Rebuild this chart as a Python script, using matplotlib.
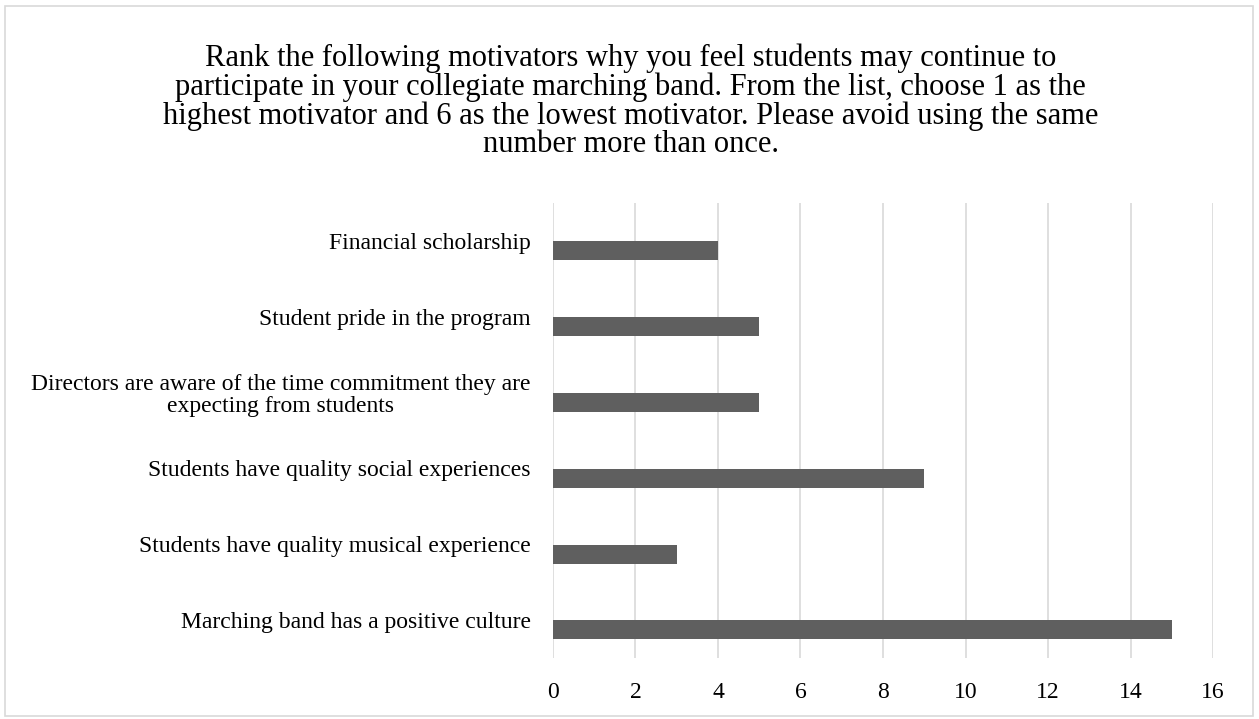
import matplotlib.pyplot as plt
from matplotlib.patches import Rectangle

plt.rcParams['font.family'] = ['Liberation Serif', 'DejaVu Serif']

# categories from top to bottom
motivators = [
    'Financial scholarship',
    'Student pride in the program',
    'Directors are aware of the time commitment they are\nexpecting from students',
    'Students have quality social experiences',
    'Students have quality musical experience',
    'Marching band has a positive culture',
]
counts = [4, 5, 5, 9, 3, 15]
xticks = [0, 2, 4, 6, 8, 10, 12, 14, 16]

title = ('Rank the following motivators why you feel students may continue to\n'
         'participate in your collegiate marching band. From the list, choose 1 as the\n'
         'highest motivator and 6 as the lowest motivator. Please avoid using the same\n'
         'number more than once.')

fig = plt.figure(figsize=(12.59, 7.19), dpi=100)
ax = fig.add_axes([0.4392, 0.0848, 0.5243, 0.6329])

pos = list(range(len(motivators)))
# bars sit a little below the category centre (second, empty series in the original workbook)
ax.barh([p + 0.13 for p in pos], counts, height=0.25, color='#5f5f5f', zorder=3)

ax.set_ylim(len(motivators) - 0.5, -0.5)
ax.set_xlim(0, 16)
ax.set_xticks(xticks)
ax.set_yticks(pos)
ax.set_yticklabels(motivators, fontsize=17, multialignment='center', linespacing=1.05)
ax.tick_params(axis='x', labelsize=17, length=0, pad=17)
ax.tick_params(axis='y', length=0, pad=16)
ax.grid(axis='x', color='#d9d9d9', linewidth=1.2, zorder=0)
for s in ax.spines.values():
    s.set_visible(False)

fig.text(0.501, 0.859, title, ha='center', va='center', fontsize=22,
         linespacing=0.97)

fig.patches.append(Rectangle((0.004, 0.004), 0.991, 0.987, transform=fig.transFigure,
                             fill=False, edgecolor='#d9d9d9', linewidth=1.2))

fig.savefig('out.png', dpi=100)
